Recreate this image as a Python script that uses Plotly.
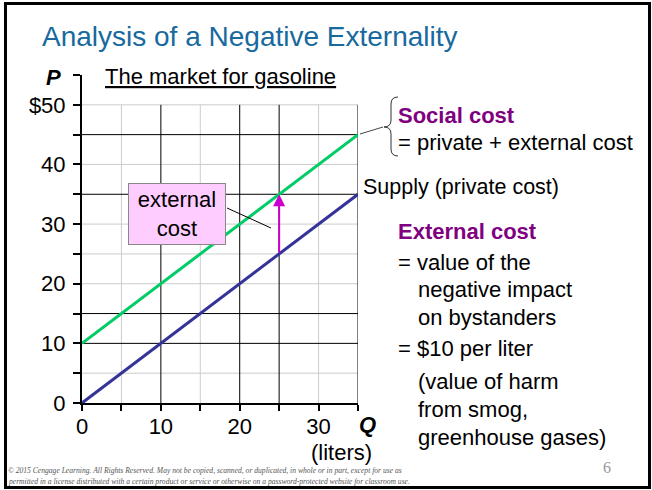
import plotly.graph_objects as go

# ---- data ----
quantity = [0, 35]
supply_private = [0, 35]          # private cost
social_cost = [10, 45]            # private + external
external_q = 25
external_from = 25
external_to = 35
y_tickvals = [0, 5, 10, 15, 20, 25, 30, 35, 40, 45, 50, 55]
y_ticktext = ["0", "", "10", "", "20", "", "30", "", "40", "", "$50", ""]
x_tickvals = [0, 5, 10, 15, 20, 25, 30, 35]
x_ticktext = ["0", "", "10", "", "20", "", "30", ""]
grid_dark_x = [10, 20, 25, 35]
grid_light_x = [5, 15, 30]
grid_dark_y = [10, 15, 35, 45]
grid_light_y = [5, 20, 25, 30, 40, 50]

FONT = "Liberation Sans, Arial, sans-serif"
W, H = 652, 490
L, T, PW, PH = 82, 75, 276, 328


def px(x):
    return (x - L) / PW


def py(y):
    return (T + PH - y) / PH


fig = go.Figure()
fig.add_trace(go.Scatter(x=quantity, y=supply_private, mode="lines",
                         line=dict(color="#333399", width=3), showlegend=False,
                         cliponaxis=False))
fig.add_trace(go.Scatter(x=quantity, y=social_cost, mode="lines",
                         line=dict(color="#00cc66", width=3), showlegend=False,
                         cliponaxis=False))

shapes = []
for gx in grid_light_x:
    shapes.append(dict(type="line", xref="x", yref="y", x0=gx, x1=gx, y0=0, y1=50,
                       line=dict(color="#cccccc", width=1), layer="below"))
for gy in grid_light_y:
    shapes.append(dict(type="line", xref="x", yref="y", x0=0, x1=35, y0=gy, y1=gy,
                       line=dict(color="#cccccc", width=1), layer="below"))
for gx in grid_dark_x:
    shapes.append(dict(type="line", xref="x", yref="y", x0=gx, x1=gx, y0=0, y1=50,
                       line=dict(color="#000000", width=1), layer="below"))
for gy in grid_dark_y:
    shapes.append(dict(type="line", xref="x", yref="y", x0=0, x1=35, y0=gy, y1=gy,
                       line=dict(color="#000000", width=1), layer="below"))

# leader from label box to arrow
shapes.append(dict(type="line", xref="paper", yref="paper",
                   x0=px(227), y0=py(208), x1=px(271), y1=py(228),
                   line=dict(color="#000000", width=1)))
# leader to brace
shapes.append(dict(type="line", xref="paper", yref="paper",
                   x0=px(360), y0=py(134), x1=px(383), y1=py(127),
                   line=dict(color="#444444", width=1)))


def pth(pts):
    s = ""
    for cmd, coords in pts:
        s += cmd + " " + " ".join(
            f"{px(coords[i]):.5f},{py(coords[i+1]):.5f}" for i in range(0, len(coords), 2)) + " "
    return s


brace = pth([("M", [398, 97]), ("Q", [391, 97, 391, 104]), ("L", [391, 120]),
             ("Q", [391, 127, 384, 127]), ("Q", [391, 127, 391, 134]), ("L", [391, 149]),
             ("Q", [391, 156, 398, 156])])
shapes.append(dict(type="path", xref="paper", yref="paper", path=brace,
                   line=dict(color="#333333", width=1)))

# slide border
shapes.append(dict(type="rect", xref="paper", yref="paper",
                   x0=px(5.5), x1=px(649.5), y0=py(3.5), y1=py(487.5),
                   line=dict(color="#000000", width=3)))

ann = []
# arrow
ann.append(dict(x=external_q, y=external_to, ax=external_q, ay=external_from,
                xref="x", yref="y", axref="x", ayref="y", text="", showarrow=True,
                arrowhead=2, arrowsize=1.2, arrowwidth=2, arrowcolor="#cc00cc"))
# external cost box
ann.append(dict(x=px(177), y=py(183), xref="paper", yref="paper",
                text="external<br>cost", showarrow=False, align="center",
                font=dict(family=FONT, size=22, color="#000000"),
                bgcolor="#ffccff", bordercolor="#888888", borderwidth=1,
                width=94, height=58))


def txt(x, y, s, size=22, color="#000000", xanchor="left", family=FONT):
    ann.append(dict(x=px(x), y=py(y), xref="paper", yref="paper", text=s,
                    showarrow=False, xanchor=xanchor, yanchor="middle",
                    font=dict(family=family, size=size, color=color)))


txt(40, 36, "Analysis of a Negative Externality", size=28, color="#17699e")
txt(103, 76, "<u>The market for gasoline</u>", size=22)
txt(53, 77, "<b><i>P</i></b>", size=22, xanchor="center")
txt(367, 424, "<b><i>Q</i></b>", size=22, xanchor="center")
txt(341, 452, "(liters)", size=22, xanchor="center")
txt(396, 115, "<b>Social cost</b>", size=22, color="#800080")
txt(396, 142, "= private + external cost", size=22)
txt(361, 187, "Supply (private cost)", size=21.5)
txt(396, 231, "<b>External cost</b>", size=22, color="#800080")
txt(396, 262, "= value of the", size=22)
txt(416, 289, "negative impact", size=22)
txt(416, 317, "on bystanders", size=22)
txt(396, 348, "= $10 per liter", size=22)
txt(416, 381, "(value of harm", size=22)
txt(416, 409, "from smog,", size=22)
txt(416, 437, "greenhouse gases)", size=22)
txt(607, 467, "6", size=16, color="#999999", xanchor="center", family="Liberation Serif, serif")
txt(6, 470, "<i>© 2015 Cengage Learning. All Rights Reserved. May not be copied, scanned, or duplicated, in whole or in part, except for use as</i>",
    size=7.6, color="#555555", family="Liberation Serif, serif")
txt(6, 481, "<i>permitted in a license distributed with a certain product or service or otherwise on a password-protected website for classroom use.</i>",
    size=7.6, color="#555555", family="Liberation Serif, serif")

fig.update_layout(
    width=W, height=H, margin=dict(l=L, r=W - L - PW, t=T, b=H - T - PH),
    paper_bgcolor="white", plot_bgcolor="white",
    shapes=shapes, annotations=ann, showlegend=False,
    font=dict(family=FONT, size=22, color="#000000"),
    xaxis=dict(range=[0, 35], showgrid=False, zeroline=False, showline=True,
               linecolor="#000000", linewidth=2, ticks="outside", ticklen=6,
               tickcolor="#000000", tickwidth=1.5, tickvals=x_tickvals, ticktext=x_ticktext,
               ticklabelstandoff=-3,
               tickfont=dict(family=FONT, size=22, color="#000000")),
    yaxis=dict(range=[0, 55], showgrid=False, zeroline=False, showline=True,
               linecolor="#000000", linewidth=2, ticks="outside", ticklen=7,
               tickcolor="#000000", tickwidth=1.5, tickvals=y_tickvals, ticktext=y_ticktext,
               ticklabelstandoff=3,
               tickfont=dict(family=FONT, size=22, color="#000000")),
)

fig.write_html("out.html", post_script="document.body.style.margin='0px';",
               config={"displayModeBar": False})
